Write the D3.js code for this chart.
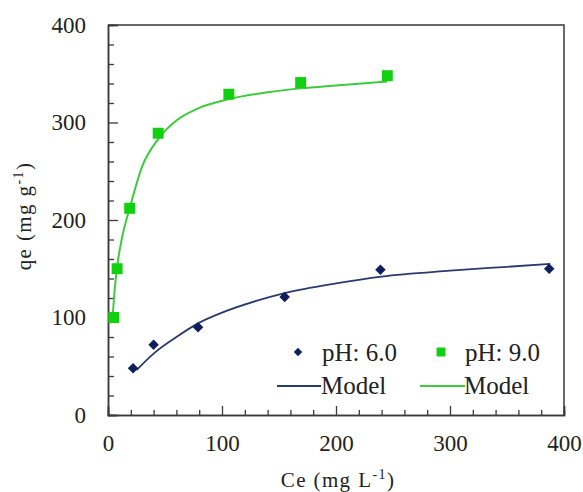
<!DOCTYPE html>
<html>
<head>
<meta charset="utf-8">
<script src="https://cdn.jsdelivr.net/npm/d3@7"></script>
<style>
  body { margin: 0; background: #fff; }
</style>
</head>
<body>
<script>
// measured points, pH 6.0
var ph6Ce = [22, 40, 79, 155, 239, 387];
var ph6Qe = [48, 72, 90, 121, 149, 150];
// measured points, pH 9.0
var ph9Ce = [5, 8, 19, 44, 106, 169, 245];
var ph9Qe = [100, 150, 212, 289, 329, 341, 348];
// model curves
var model6Ce = [25, 40, 60, 79, 100, 130, 155, 200, 240, 300, 350, 388];
var model6Qe = [46, 63, 80, 94, 105, 117, 125, 135, 142, 148, 152, 155];
var model9Ce = [4, 6, 8, 12, 19, 30, 44, 60, 80, 106, 140, 169, 200, 245];
var model9Qe = [100, 130, 152, 180, 212, 255, 283, 302, 315, 324, 331, 335, 338, 342];
var xTicks = [0, 100, 200, 300, 400];
var yTicks = [0, 100, 200, 300, 400];

var W = 583, H = 492;
var FONT = "'Liberation Serif'";
var blue = "#0d1f5c", blueLine = "#2b3a6e";
var green = "#10d010", greenLine = "#3ccc3c";

var svg = d3.select("body").append("svg")
  .attr("width", W)
  .attr("height", H);

var x = d3.scaleLinear().domain([0, 400]).range([108, 564]);
var y = d3.scaleLinear().domain([0, 400]).range([415, 25]);

// frame (top + right)
svg.append("path")
  .attr("d", "M" + x(0) + "," + y(400) + "H" + x(400) + "V" + y(0))
  .attr("fill", "none")
  .attr("stroke", "#3a3a3a")
  .attr("stroke-width", 1.5);

// minor ticks, pointing inward
var minor = d3.range(0, 401, 20).filter(function(v) { return v % 100 !== 0; });

function styleTicks(g) {
  g.attr("font-family", null);
  g.selectAll("text")
    .attr("font-size", "23px")
    .attr("fill", "#222")
    .style("font-family", FONT);
}

svg.append("g")
  .attr("transform", "translate(0," + y(0) + ")")
  .call(d3.axisBottom(x).tickValues(minor).tickSize(-5).tickFormat(""));
svg.append("g")
  .attr("transform", "translate(0," + y(0) + ")")
  .call(d3.axisBottom(x).tickValues(xTicks).tickSize(-9).tickPadding(20).tickFormat(d3.format("d")))
  .call(styleTicks);

svg.append("g")
  .attr("transform", "translate(" + x(0) + ",0)")
  .call(d3.axisLeft(y).tickValues(minor).tickSize(-6).tickFormat(""));
svg.append("g")
  .attr("transform", "translate(" + x(0) + ",0)")
  .call(d3.axisLeft(y).tickValues(yTicks).tickSize(-10).tickPadding(22).tickFormat(d3.format("d")))
  .call(styleTicks);

svg.selectAll(".domain").attr("stroke", "#3a3a3a").attr("stroke-width", 1.5);
svg.selectAll(".tick line").attr("stroke", "#3a3a3a").attr("stroke-width", 1.3);

// model lines
var line = d3.line()
  .x(function(d) { return x(d[0]); })
  .y(function(d) { return y(d[1]); })
  .curve(d3.curveMonotoneX);

svg.append("path")
  .datum(d3.zip(model6Ce, model6Qe))
  .attr("d", line)
  .attr("fill", "none")
  .attr("stroke", blueLine)
  .attr("stroke-width", 1.8);

svg.append("path")
  .datum(d3.zip(model9Ce, model9Qe))
  .attr("d", line)
  .attr("fill", "none")
  .attr("stroke", greenLine)
  .attr("stroke-width", 2);

// points
var diamond = d3.symbol().type(d3.symbolDiamond2).size(70);
var square = d3.symbol().type(d3.symbolSquare).size(120);

svg.selectAll(".p6")
  .data(d3.zip(ph6Ce, ph6Qe))
  .enter()
  .append("path")
  .attr("class", "p6")
  .attr("d", diamond)
  .attr("transform", function(d) { return "translate(" + x(d[0]) + "," + y(d[1]) + ")"; })
  .attr("fill", blue);

svg.selectAll(".p9")
  .data(d3.zip(ph9Ce, ph9Qe))
  .enter()
  .append("path")
  .attr("class", "p9")
  .attr("d", square)
  .attr("transform", function(d) { return "translate(" + x(d[0]) + "," + y(d[1]) + ")"; })
  .attr("fill", green);

// legend
function legText(xp, yp, s) {
  return svg.append("text")
    .attr("x", xp).attr("y", yp)
    .attr("font-size", "25px")
    .attr("fill", "#222")
    .style("font-family", FONT)
    .text(s);
}
svg.append("path").attr("d", d3.symbol().type(d3.symbolDiamond2).size(45))
  .attr("transform", "translate(298,352)").attr("fill", blue);
legText(322, 361, "pH: 6.0");
svg.append("path").attr("d", d3.symbol().type(d3.symbolSquare).size(80))
  .attr("transform", "translate(441,352)").attr("fill", green);
legText(465, 361, "pH: 9.0");
svg.append("line").attr("x1", 277).attr("x2", 321).attr("y1", 386).attr("y2", 386)
  .attr("stroke", blueLine).attr("stroke-width", 1.8);
legText(321, 394, "Model");
svg.append("line").attr("x1", 420).attr("x2", 465).attr("y1", 386).attr("y2", 386)
  .attr("stroke", greenLine).attr("stroke-width", 2);
legText(464, 394, "Model");

// axis titles
var xt = svg.append("text")
  .attr("x", 338).attr("y", 487)
  .attr("text-anchor", "middle")
  .attr("font-size", "21px")
  .attr("letter-spacing", "1.4px")
  .attr("fill", "#222")
  .style("font-family", FONT);
xt.append("tspan").text("Ce (mg  L");
xt.append("tspan").attr("dy", -8).attr("font-size", "14px").text("-1");
xt.append("tspan").attr("dy", 8).text(")");

var yt = svg.append("text")
  .attr("transform", "translate(31,216) rotate(-90)")
  .attr("text-anchor", "middle")
  .attr("font-size", "21px")
  .attr("letter-spacing", "1.4px")
  .attr("fill", "#222")
  .style("font-family", FONT);
yt.append("tspan").text("qe (mg  g");
yt.append("tspan").attr("dy", -8).attr("font-size", "14px").text("-1");
yt.append("tspan").attr("dy", 8).text(")");
</script>
</body>
</html>
